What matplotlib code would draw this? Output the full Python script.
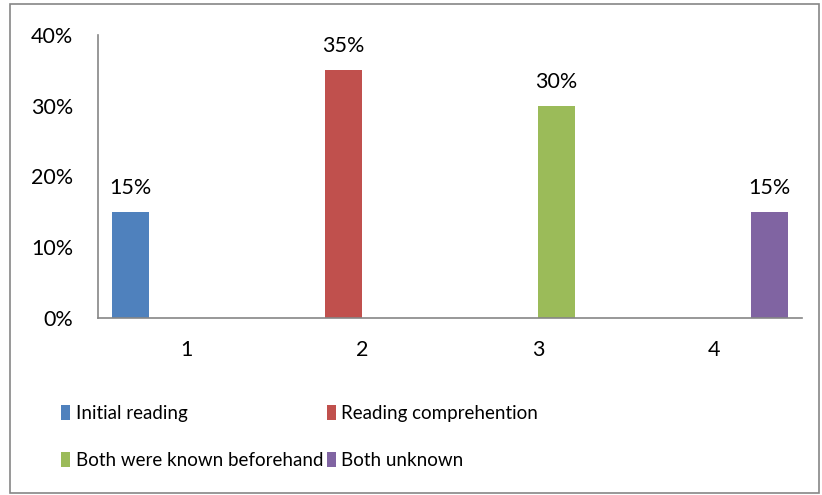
import numpy as np
from matplotlib import pyplot as plt
from matplotlib.patches import Rectangle

plt.rcParams['font.family'] = ['Lato', 'DejaVu Sans']
plt.rcParams['font.size'] = 15

categories = ['1', '2', '3', '4']
series_names = ['Initial reading', 'Reading comprehention',
                'Both were known beforehand', 'Both unknown']
values = [
    [0.15, 0, 0, 0],
    [0, 0.35, 0, 0],
    [0, 0, 0.30, 0],
    [0, 0, 0, 0.15],
]
colors = ['#4F81BD', '#C0504D', '#9BBB59', '#8064A2']
yticks = [0, 0.1, 0.2, 0.3, 0.4]

fig = plt.figure(figsize=(8.22, 4.95), dpi=100)
ax = fig.add_axes([98/822, 1 - 318/495, 704/822, 283/495])

x = np.arange(len(categories))
w = 0.21
handles = []
for i, (name, vals, c) in enumerate(zip(series_names, values, colors)):
    bars = ax.bar(x + (i - 1.5) * w, vals, w, color=c, label=name)
    handles.append(bars)
    for b, v in zip(bars, vals):
        if v > 0:
            ax.text(b.get_x() + b.get_width() / 2, v + 0.02, f'{v:.0%}',
                    ha='center', va='bottom', fontsize=15.5)

ax.set_xlim(-0.5, 3.5)
ax.set_ylim(0, 0.4)
ax.set_xticks(x)
ax.set_xticklabels(categories)
ax.set_yticks(yticks)
ax.set_yticklabels([f'{t:.0%}' for t in yticks])
ax.tick_params(length=0, labelsize=15.5)
ax.tick_params(axis='y', pad=18)
ax.tick_params(axis='x', pad=16)
for s in ['top', 'right']:
    ax.spines[s].set_visible(False)
for s in ['left', 'bottom']:
    ax.spines[s].set_color('#868686')
    ax.spines[s].set_linewidth(1.2)

# legend is filled row by row: two per row
order = [0, 2, 1, 3]
fig.legend(handles=[handles[k] for k in order], loc='upper left',
           bbox_to_anchor=(44/822, 1 - 388/495), fontsize=13.5,
           ncol=2, frameon=False, handlelength=0.48, handleheight=0.8,
           handletextpad=0.3, columnspacing=0.2, labelspacing=1.6)

# outer chart border
fig.patches.append(Rectangle((10/822, 2/495), 809/822, 489/495, transform=fig.transFigure,
                             fill=False, edgecolor='#868686', linewidth=1.2))

fig.savefig('out.png', dpi=100)
